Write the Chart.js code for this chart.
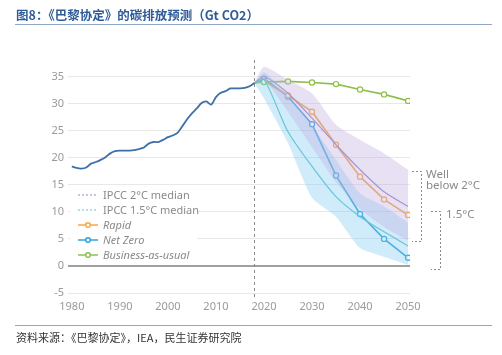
<!DOCTYPE html>
<html><head><meta charset="utf-8">
<script src="https://cdn.jsdelivr.net/npm/chart.js@4/dist/chart.umd.min.js"></script>
<style>
html,body{margin:0;padding:0;background:#fff;}
#wrap{position:relative;width:502px;height:355px;overflow:hidden;}
#title{position:absolute;left:16px;top:5px;font:bold 12.5px "Noto Sans CJK SC",sans-serif;color:#2F5C98;white-space:nowrap;}
#tline{position:absolute;left:15px;top:24px;width:477px;height:0;border-top:1.5px solid #8FA8C6;}
#fline{position:absolute;left:15px;top:325px;width:477px;height:0;border-top:1.5px solid #8FA8C6;}
#src{position:absolute;left:16px;top:329px;font:11px "Noto Sans CJK SC",sans-serif;color:#333;white-space:nowrap;}
canvas{position:absolute;left:0;top:0;}
</style></head>
<body><div id="wrap">
<canvas id="c" width="502" height="355"></canvas>
<div id="title">图8：《巴黎协定》的碳排放预测（Gt CO2）</div>
<div id="tline"></div>
<div id="fline"></div>
<div id="src">资料来源：《巴黎协定》，IEA，民生证券研究院</div>
</div>
<script>
// ---- data ----
const histYears = [1980,1981,1982,1983,1984,1985,1986,1987,1988,1989,1990,1991,1992,1993,1994,1995,1996,1997,1998,1999,2000,2001,2002,2003,2004,2005,2006,2007,2008,2009,2010,2011,2012,2013,2014,2015,2016,2017,2018];
const histValues = [18.4,18.1,18.0,18.2,18.9,19.2,19.6,20.1,20.8,21.2,21.3,21.3,21.3,21.4,21.6,21.9,22.6,22.9,22.9,23.3,23.8,24.1,24.6,25.8,27.1,28.2,29.1,30.1,30.4,29.8,31.2,32.0,32.3,32.8,32.8,32.8,32.9,33.2,33.8];
const projYears = [2018,2020,2025,2030,2035,2040,2045,2050];
const bau = [33.8,34.0,34.1,33.9,33.6,32.6,31.7,30.5];
const rapid = [33.8,34.2,31.5,28.5,22.4,16.5,12.3,9.4];
const netZero = [33.8,34.6,31.3,26.2,16.7,9.6,5.0,1.5];
const ipcc2Median = [33.8,35.0,31.9,27.3,22.4,17.8,13.7,11.0];
const ipcc15Median = [33.8,34.5,24.8,18.4,12.8,9.1,6.3,3.7];
const ipcc2High = [33.8,36.8,34.4,31.9,26.1,23.3,20.8,17.8];
const ipcc2Low = [33.8,34.5,28.5,22.0,15.5,10.5,7.2,4.7];
const ipcc15High = [33.8,35.8,31.5,26.0,19.6,13.4,11.0,8.0];
const ipcc15Low = [33.8,31.0,22.7,12.6,9.1,3.3,1.7,0.2];
const xTicks = [1980,1990,2000,2010,2020,2030,2040,2050];
const yTicks = [-5,0,5,10,15,20,25,30,35];
const dividerYear = 2018;
const legendLabels = ['IPCC 2°C median','IPCC 1.5°C median','Rapid','Net Zero','Business-as-usual'];
const wellBelow2Range = [17.6,4.6];
const below15Range = [10.1,-0.6];

const C = {hist:'#3F6FA8', bau:'#8DC04A', rapid:'#F3A744', nz:'#2FA3DA', p2:'#9C86C6', p15:'#5EC4C9'};
const pts = (xs, ys) => xs.map((x,i)=>({x, y: ys[i]}));
const markR = projYears.map((y,i)=> i===0 ? 0 : 2.6);

const legendItems = [
  {t:legendLabels[0], c:C.p2, dash:true, it:false},
  {t:legendLabels[1], c:C.p15, dash:true, it:false},
  {t:legendLabels[2], c:C.rapid, dash:false, it:true},
  {t:legendLabels[3], c:C.nz, dash:false, it:true},
  {t:legendLabels[4], c:C.bau, dash:false, it:true},
];

const extras = {
  id:'extras',
  beforeDatasetsDraw(chart){
    const ctx = chart.ctx, xs = chart.scales.x;
    ctx.save();
    ctx.strokeStyle = '#8a8a8a'; ctx.lineWidth = 1; ctx.setLineDash([3,3]);
    const dx = Math.round(xs.getPixelForValue(dividerYear))+0.5;
    ctx.beginPath(); ctx.moveTo(dx, 60); ctx.lineTo(dx, 297); ctx.stroke();
    ctx.restore();
    ctx.save();
    ctx.fillStyle = '#fff';
    ctx.fillRect(70, 188, 127, 74);
    legendItems.forEach((it, i) => {
      const y = 195 + i*15;
      ctx.strokeStyle = it.c; ctx.lineWidth = it.dash ? 1 : 1.5;
      ctx.setLineDash(it.dash ? [2,2] : []);
      ctx.beginPath(); ctx.moveTo(78, y); ctx.lineTo(98, y); ctx.stroke();
      ctx.setLineDash([]);
      if (!it.dash) {
        ctx.fillStyle = '#fff';
        ctx.beginPath(); ctx.arc(88, y, 2.3, 0, Math.PI*2); ctx.fill(); ctx.stroke();
      }
      ctx.fillStyle = '#8a8a8a';
      ctx.font = (it.it ? 'italic ' : '') + '11px "Noto Sans", sans-serif';
      ctx.textBaseline = 'middle'; ctx.textAlign = 'left';
      ctx.fillText(it.t, 103, y+0.5);
    });
    ctx.restore();
  },
  afterDraw(chart){
    const ctx = chart.ctx, ys = chart.scales.y;
    ctx.save();
    ctx.strokeStyle = '#8a8a8a'; ctx.lineWidth = 1; ctx.setLineDash([2,2]);
    const br = (x0, x1, r) => {
      const a = Math.round(ys.getPixelForValue(r[0]))+0.5, b = Math.round(ys.getPixelForValue(r[1]))+0.5;
      ctx.beginPath(); ctx.moveTo(x0, a); ctx.lineTo(x1, a); ctx.lineTo(x1, b); ctx.lineTo(x0, b); ctx.stroke();
      return a;
    };
    const a1 = br(412, 421.5, wellBelow2Range);
    const a2 = br(431, 440.5, below15Range);
    ctx.setLineDash([]);
    ctx.fillStyle = '#8a8a8a'; ctx.font = '11.5px "Noto Sans", sans-serif';
    ctx.textAlign = 'left'; ctx.textBaseline = 'middle';
    ctx.fillText('Well', 426, a1+3);
    ctx.fillText('below 2°C', 426, a1+14);
    ctx.fillText('1.5°C', 446, a2+3);
    ctx.restore();
  }
};

const line = (label, data, color, opts={}) => Object.assign({
  label, data, borderColor: color, backgroundColor: '#fff', borderWidth: 1.6,
  pointRadius: 0, pointBorderWidth: 1.2, pointBackgroundColor:'#fff', pointBorderColor: color,
  fill: false, tension: 0
}, opts);

new Chart(document.getElementById('c'), {
  type: 'line',
  data: { datasets: [
    line('2low', pts(projYears, ipcc2Low), 'rgba(0,0,0,0)', {borderWidth:0, tension:0.2}),
    line('2high', pts(projYears, ipcc2High), 'rgba(0,0,0,0)', {borderWidth:0, tension:0.2, fill:'-1', backgroundColor:'rgba(190,172,225,0.36)'}),
    line('15low', pts(projYears, ipcc15Low), 'rgba(0,0,0,0)', {borderWidth:0, tension:0.2}),
    line('15high', pts(projYears, ipcc15High), 'rgba(0,0,0,0)', {borderWidth:0, tension:0.2, fill:'-1', backgroundColor:'rgba(125,200,240,0.36)'}),
    line('hist', pts(histYears, histValues), C.hist, {borderWidth:1.8, tension:0.25}),
    line(legendLabels[0], pts(projYears, ipcc2Median), C.p2, {borderWidth:1.2, tension:0.25}),
    line(legendLabels[1], pts(projYears, ipcc15Median), C.p15, {borderWidth:1.2, tension:0.25}),
    line(legendLabels[4], pts(projYears, bau), C.bau, {pointRadius: markR}),
    line(legendLabels[2], pts(projYears, rapid), C.rapid, {pointRadius: markR}),
    line(legendLabels[3], pts(projYears, netZero), C.nz, {pointRadius: markR}),
  ]},
  options: {
    responsive: false, animation: false,
    layout: { padding: { left: 0, right: 92, top: 63, bottom: 35 } },
    plugins: { legend: { display: false }, tooltip: { enabled: false } },
    scales: {
      x: {
        type: 'linear', min: 1979.2, max: 2050.4,
        afterBuildTicks: s => { s.ticks = xTicks.map(v => ({value: v})); },
        afterFit: s => { s.height = 27; },
        grid: { display: false, drawTicks: false },
        border: { display: false },
        ticks: { padding: 7, color: '#9a9a9a', font: { size: 11, family: '"Noto Sans", sans-serif' }, maxRotation: 0, callback: v => String(v) }
      },
      y: {
        min: -5, max: 37.5,
        afterBuildTicks: s => { s.ticks = yTicks.map(v => ({value: v})); },
        afterFit: s => { s.width = 68; },
        grid: { drawTicks: false, color: c => c.tick && c.tick.value === 0 ? '#a0a0a0' : '#e8e8e8', lineWidth: c => c.tick && c.tick.value === 0 ? 2 : 1 },
        border: { display: false },
        ticks: { padding: 4, color: '#9a9a9a', font: { size: 11, family: '"Noto Sans", sans-serif' } }
      }
    }
  },
  plugins: [extras]
});
</script>
</body></html>
